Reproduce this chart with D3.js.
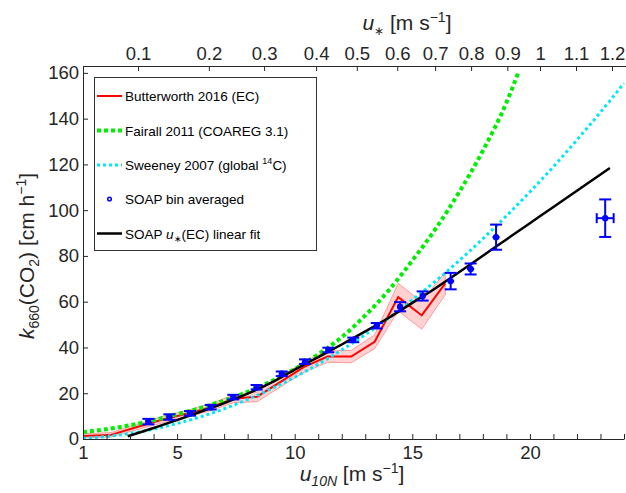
<!DOCTYPE html>
<html><head><meta charset="utf-8">
<script src="https://cdn.jsdelivr.net/npm/d3@7"></script>
<style>
html,body{margin:0;padding:0;background:#fff;}
svg{display:block;font-family:"Liberation Sans",Arial,Helvetica,sans-serif;}
</style></head>
<body><div id="chart"></div>
<script>
// ---- data ----
const butterU10   = [1.0, 2.2, 3.4, 4.4, 5.4, 6.4, 7.4, 8.4, 9.4, 10.4, 11.4, 12.4, 13.4, 14.4, 15.4, 16.4];
const butterK     = [1.3, 1.8, 5.6, 8.5, 11.0, 13.8, 17.6, 18.5, 25.0, 31.5, 36.0, 36.0, 42.5, 62.0, 54.0, 68.0];
const butterLow   = [0.5, 0.9, 4.4, 7.1, 9.6, 12.3, 15.9, 16.3, 22.8, 29.2, 33.5, 33.3, 39.5, 56.0, 48.0, 63.0];
const butterHigh  = [2.3, 2.8, 6.8, 9.9, 12.4, 15.3, 19.3, 20.5, 27.2, 33.8, 38.5, 38.7, 45.5, 68.0, 60.0, 73.0];

const fairallU10  = [1, 2, 3, 4, 5, 6, 7, 8, 9, 10, 11, 12, 13, 14, 15, 16, 17, 18, 19, 19.5];
const fairallK    = [3.0, 4.3, 6.0, 8.2, 10.8, 13.6, 16.8, 20.6, 25.2, 30.6, 37.0, 44.5, 54.0, 65.0, 78.0, 92.0, 108.0, 126.0, 147.0, 160.0];

const sweeneyU10  = [1, 2, 3, 4, 5, 6, 7, 8, 9, 10, 11, 12, 13, 14, 15, 16, 17, 18, 19, 20, 21, 22, 23, 24];
const sweeneyK    = [0.27, 1.08, 2.43, 4.32, 6.75, 9.72, 13.2, 17.3, 21.9, 27.0, 32.7, 38.9, 45.6, 52.9, 60.8, 69.1, 78.0, 87.5, 97.5, 108.0, 119.0, 130.7, 142.8, 155.5];

const fitU10      = [2.9, 4, 5, 6, 7, 8, 9, 10, 11, 12, 13, 14, 15, 16, 17, 18, 19, 20, 21, 22, 23, 23.4];
const fitK        = [1.2, 4.8, 8.3, 11.9, 15.7, 19.8, 24.6, 30.3, 35.8, 41.3, 47.0, 53.0, 59.5, 66.0, 73.0, 80.1, 87.2, 94.3, 101.4, 108.5, 115.6, 118.4];

const soapU10     = [3.78, 4.67, 5.55, 6.43, 7.39, 8.38, 9.45, 10.44, 11.43, 12.49, 13.49, 14.48, 15.44, 16.63, 17.48, 18.56, 23.2];
const soapK       = [7.6, 9.6, 11.2, 13.9, 18.3, 22.6, 28.5, 33.8, 38.9, 43.3, 49.5, 57.8, 62.5, 69.0, 74.3, 88.2, 96.5];
const soapKErr    = [1.2, 1.2, 1.0, 1.0, 1.0, 1.0, 1.0, 1.0, 1.0, 1.0, 1.2, 2.0, 2.0, 3.6, 2.4, 5.5, 8.2];
const soapUErr    = [0.1, 0.1, 0.1, 0.1, 0.1, 0.1, 0.1, 0.1, 0.1, 0.1, 0.1, 0.1, 0.1, 0.15, 0.15, 0.15, 0.36];

const xTicks      = [1,2,3,4,5,6,7,8,9,10,11,12,13,14,15,16,17,18,19,20,21,22,23,24];
const xTickLabels = [1, 5, 10, 15, 20];
const yTicks      = [0, 20, 40, 60, 80, 100, 120, 140, 160];
const uStarLabels = ["0.1","0.2","0.3","0.4","0.5","0.6","0.7","0.8","0.9","1","1.1","1.2"];
const uStarAtU10  = [3.34, 6.35, 8.70, 10.91, 12.64, 14.36, 15.97, 17.50, 19.04, 20.43, 21.96, 23.49];

const legendNames = ["Butterworth 2016 (EC)", "Fairall 2011 (COAREG 3.1)", "Sweeney 2007 (global ", "SOAP bin averaged", "SOAP "];

// ---- layout ----
const W = 626, H = 493;
const L = 83, R = 624, T = 66, B = 439;
const axisCol = "#262626";
const svg = d3.select("#chart").append("svg").attr("width", W).attr("height", H);

const x = d3.scaleLinear().domain([1, 24]).range([L, R]);
const y = d3.scaleLinear().domain([0, 163]).range([B, T]);

svg.append("defs").append("clipPath").attr("id","clip")
  .append("rect").attr("x", L).attr("y", T).attr("width", R - L + 2).attr("height", B - T);

const plot = svg.append("g").attr("clip-path","url(#clip)");

// band
const band = butterU10.map((u,i)=>({u, lo: butterLow[i], hi: butterHigh[i]}));
plot.append("path").datum(band)
  .attr("d", d3.area().x(d=>x(d.u)).y0(d=>y(d.lo)).y1(d=>y(d.hi)))
  .attr("fill","#ff0000").attr("fill-opacity",0.18)
  .attr("stroke","#ff9a9a").attr("stroke-width",1);

const line = d3.line().x(d=>x(d[0])).y(d=>y(d[1]));
const smooth = d3.line().x(d=>x(d[0])).y(d=>y(d[1])).curve(d3.curveMonotoneX);

plot.append("path").attr("d", line(butterU10.map((u,i)=>[u,butterK[i]])))
  .attr("fill","none").attr("stroke","#ff0000").attr("stroke-width",2);

plot.append("path").attr("d", smooth(fairallU10.map((u,i)=>[u,fairallK[i]])))
  .attr("fill","none").attr("stroke","#00ee00").attr("stroke-width",4).attr("stroke-dasharray","4,3");

plot.append("path").attr("d", smooth(sweeneyU10.map((u,i)=>[u,sweeneyK[i]])))
  .attr("fill","none").attr("stroke","#00e8f8").attr("stroke-width",3).attr("stroke-dasharray","3,3");

plot.append("path").attr("d", smooth(fitU10.map((u,i)=>[u,fitK[i]])))
  .attr("fill","none").attr("stroke","#000").attr("stroke-width",2.5);

// SOAP points with error bars
const blue = "#0000ff";
const pts = soapU10.map((u,i)=>({u, k: soapK[i], ek: soapKErr[i], eu: soapUErr[i]}));
const gp = plot.append("g").attr("stroke", blue).attr("stroke-width", 2).attr("fill","none");
pts.forEach(d=>{
  const cx = x(d.u), cy = y(d.k);
  gp.append("line").attr("x1",cx).attr("x2",cx).attr("y1",y(d.k-d.ek)).attr("y2",y(d.k+d.ek));
  gp.append("line").attr("x1",cx-6).attr("x2",cx+6).attr("y1",y(d.k-d.ek)).attr("y2",y(d.k-d.ek));
  gp.append("line").attr("x1",cx-6).attr("x2",cx+6).attr("y1",y(d.k+d.ek)).attr("y2",y(d.k+d.ek));
  gp.append("line").attr("x1",x(d.u-d.eu)).attr("x2",x(d.u+d.eu)).attr("y1",cy).attr("y2",cy);
  if (d.eu > 0.3) {
    gp.append("line").attr("x1",x(d.u-d.eu)).attr("x2",x(d.u-d.eu)).attr("y1",cy-5).attr("y2",cy+5);
    gp.append("line").attr("x1",x(d.u+d.eu)).attr("x2",x(d.u+d.eu)).attr("y1",cy-5).attr("y2",cy+5);
  }
  gp.append("circle").attr("cx",cx).attr("cy",cy).attr("r",2.2);
});

// ---- axes ----
function styleAxis(g){
  g.selectAll("path.domain").attr("stroke", axisCol).attr("stroke-width",1);
  g.selectAll(".tick line").attr("stroke", axisCol).attr("stroke-width",1);
  g.selectAll(".tick text").attr("fill", axisCol).attr("font-size", 18.5)
   .attr("font-family","Liberation Sans, Arial, sans-serif");
}
const gx = svg.append("g").attr("transform",`translate(0,${B})`)
  .call(d3.axisBottom(x).tickValues(xTicks).tickSizeInner(-5).tickSizeOuter(0).tickPadding(7)
        .tickFormat(d => xTickLabels.includes(d) ? String(d) : ""));
styleAxis(gx);

const gt = svg.append("g").attr("transform",`translate(0,${T})`)
  .call(d3.axisTop(x).tickValues(uStarAtU10).tickSizeInner(-5).tickSizeOuter(0).tickPadding(6)
        .tickFormat((d,i) => uStarLabels[i]));
styleAxis(gt);
gt.select("path.domain").attr("d", `M${L},0.5H${W}`);

const gy = svg.append("g").attr("transform",`translate(${L},0)`)
  .call(d3.axisLeft(y).tickValues(yTicks).tickSizeInner(-5).tickSizeOuter(0).tickPadding(4));
styleAxis(gy);

// ---- axis titles ----
const fs = 21;
const xt = svg.append("text").attr("x", 352).attr("y", 481).attr("text-anchor","middle")
  .attr("font-size", fs).attr("fill", axisCol);
xt.append("tspan").attr("font-style","italic").text("u");
xt.append("tspan").attr("font-size",14).attr("dy",5).attr("font-style","italic").text("10N");
xt.append("tspan").attr("dy",-5).text(" [m s");
xt.append("tspan").attr("font-size",14).attr("dy",-8).text("\u22121");
xt.append("tspan").attr("dy",8).text("]");

const tt = svg.append("text").attr("x", 407).attr("y", 30).attr("text-anchor","middle")
  .attr("font-size", fs).attr("fill", axisCol);
tt.append("tspan").attr("font-style","italic").text("u");
tt.append("tspan").attr("font-size",12).attr("dy",5).text("\u2217");
tt.append("tspan").attr("dy",-5).text(" [m s");
tt.append("tspan").attr("font-size",14).attr("dy",-8).text("\u22121");
tt.append("tspan").attr("dy",8).text("]");

const yt = svg.append("text").attr("transform","translate(34,256) rotate(-90)").attr("text-anchor","middle")
  .attr("font-size", fs).attr("fill", axisCol);
yt.append("tspan").attr("font-style","italic").text("k");
yt.append("tspan").attr("font-size",14).attr("dy",5).text("660");
yt.append("tspan").attr("dy",-5).text("(CO");
yt.append("tspan").attr("font-size",14).attr("dy",5).text("2");
yt.append("tspan").attr("dy",-5).text(") [cm h");
yt.append("tspan").attr("font-size",14).attr("dy",-8).text("\u22121");
yt.append("tspan").attr("dy",8).text("]");

// ---- legend ----
const lg = svg.append("g");
lg.append("rect").attr("x",94.5).attr("y",77.5).attr("width",222).attr("height",173)
  .attr("fill","#fff").attr("stroke","#333").attr("stroke-width",1);
const ly = [96, 130.5, 165, 199, 233.5];
const lx0 = 97, lx1 = 122, tx = 125, lfs = 13.5;
lg.append("line").attr("x1",lx0).attr("x2",lx1).attr("y1",ly[0]).attr("y2",ly[0]).attr("stroke","#ff0000").attr("stroke-width",2);
lg.append("line").attr("x1",lx0).attr("x2",lx1).attr("y1",ly[1]).attr("y2",ly[1]).attr("stroke","#00ee00").attr("stroke-width",4).attr("stroke-dasharray","4,3");
lg.append("line").attr("x1",lx0).attr("x2",lx1).attr("y1",ly[2]).attr("y2",ly[2]).attr("stroke","#00e8f8").attr("stroke-width",3).attr("stroke-dasharray","3,3");
lg.append("circle").attr("cx",109.5).attr("cy",ly[3]).attr("r",1.8).attr("fill","none").attr("stroke",blue).attr("stroke-width",1.5);
lg.append("line").attr("x1",lx0).attr("x2",lx1).attr("y1",ly[4]).attr("y2",ly[4]).attr("stroke","#000").attr("stroke-width",2.5);

function ltext(i){ return lg.append("text").attr("x",tx).attr("y",ly[i]+5).attr("font-size",lfs).attr("fill","#000"); }
ltext(0).text(legendNames[0]);
ltext(1).text(legendNames[1]);
const t2 = ltext(2); t2.append("tspan").text(legendNames[2]);
t2.append("tspan").attr("font-size",9).attr("dy",-6).text("14");
t2.append("tspan").attr("dy",6).text("C)");
ltext(3).text(legendNames[3]);
const t4 = ltext(4); t4.append("tspan").text(legendNames[4]);
t4.append("tspan").attr("font-style","italic").text("u");
t4.append("tspan").attr("font-size",9).attr("dy",3).text("\u2217");
t4.append("tspan").attr("dy",-3).text("(EC) linear fit");
</script>
</body></html>
